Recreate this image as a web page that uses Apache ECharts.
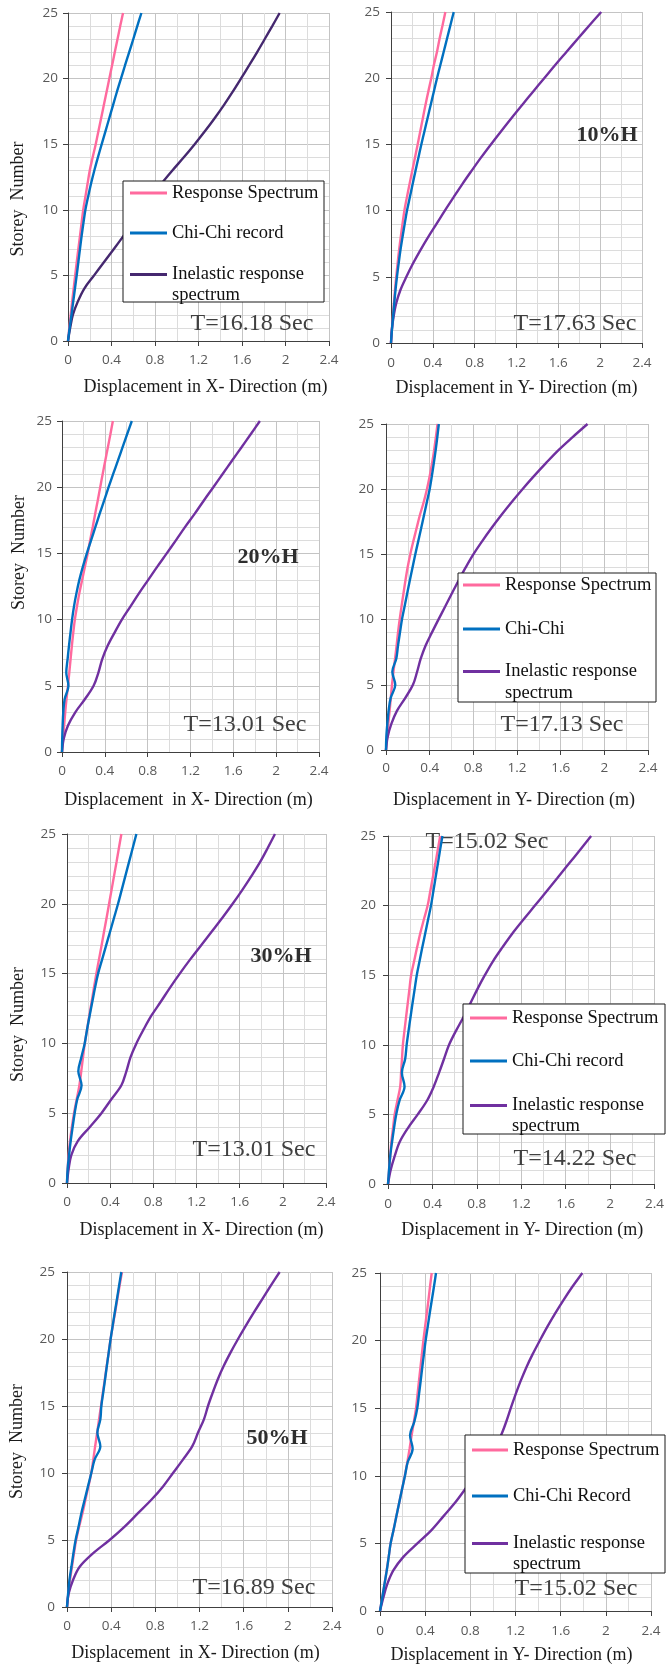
<!DOCTYPE html>
<html><head><meta charset="utf-8">
<script src="https://cdn.jsdelivr.net/npm/echarts@6/dist/echarts.min.js"></script>
<style>html,body{margin:0;padding:0;background:#fff}#c{width:667px;height:1666px}</style>
</head><body><div id="c"></div>
<script>
// ---------------- DATA ----------------
const storeys = [0,1,2,3,4,5,6,7,8,9,10,11,12,13,14,15,16,17,18,19,20,21,22,23,24,25];
const xTickLabels = ['0','0.4','0.8','1.2','1.6','2','2.4'];
const yTickLabels = ['0','5','10','15','20','25'];

// Panel 1: X-direction, 10%H
const p1RS = [0,0.012,0.025,0.038,0.052,0.066,0.08,0.095,0.11,0.125,0.14,0.16,0.18,0.2,0.227,0.255,0.28,0.305,0.33,0.355,0.38,0.405,0.43,0.455,0.48,0.506];
const p1CC = [0,0.015,0.032,0.048,0.064,0.08,0.095,0.11,0.125,0.142,0.16,0.185,0.212,0.242,0.275,0.31,0.345,0.38,0.415,0.45,0.487,0.524,0.562,0.6,0.637,0.675];
const p1IR = [0,0.02,0.045,0.09,0.15,0.24,0.33,0.42,0.51,0.6,0.68,0.77,0.86,0.96,1.065,1.165,1.26,1.35,1.435,1.515,1.59,1.665,1.738,1.808,1.878,1.946];
// Panel 2: Y-direction, 10%H
const p2RS = [0,0.008,0.018,0.028,0.038,0.05,0.063,0.077,0.093,0.11,0.128,0.152,0.177,0.203,0.229,0.255,0.28,0.305,0.33,0.357,0.385,0.41,0.44,0.465,0.493,0.52];
const p2CC = [0,0.009,0.02,0.031,0.043,0.057,0.073,0.09,0.11,0.131,0.153,0.18,0.207,0.234,0.262,0.29,0.32,0.35,0.38,0.41,0.44,0.472,0.504,0.536,0.568,0.6];
const p2IR = [0,0.008,0.025,0.05,0.09,0.147,0.21,0.28,0.355,0.435,0.515,0.598,0.682,0.77,0.86,0.955,1.053,1.153,1.256,1.36,1.465,1.57,1.679,1.788,1.898,2.01];
// Panel 3: X-direction, 20%H
const p3RS = [0,0.01,0.02,0.03,0.042,0.056,0.068,0.08,0.092,0.105,0.12,0.14,0.162,0.188,0.214,0.24,0.263,0.287,0.31,0.334,0.357,0.38,0.404,0.428,0.452,0.475];
const p3CC = [0,0.002,0.006,0.012,0.025,0.06,0.04,0.052,0.065,0.079,0.094,0.112,0.135,0.162,0.195,0.232,0.272,0.312,0.352,0.394,0.435,0.478,0.522,0.565,0.608,0.652];
const p3IR = [0,0.016,0.056,0.124,0.215,0.295,0.34,0.375,0.425,0.49,0.559,0.64,0.72,0.805,0.89,0.978,1.065,1.15,1.24,1.325,1.413,1.5,1.587,1.675,1.762,1.848];
// Panel 4: Y-direction, 20%H
const p4RS = [0,0.01,0.021,0.033,0.044,0.055,0.068,0.083,0.097,0.11,0.125,0.142,0.16,0.178,0.198,0.222,0.25,0.28,0.31,0.345,0.375,0.4,0.422,0.441,0.457,0.472];
const p4CC = [0,0.003,0.012,0.024,0.043,0.085,0.058,0.094,0.11,0.128,0.146,0.17,0.194,0.218,0.243,0.268,0.295,0.322,0.348,0.374,0.4,0.42,0.438,0.455,0.47,0.484];
const p4IR = [0,0.015,0.049,0.1,0.177,0.247,0.285,0.318,0.362,0.42,0.48,0.542,0.603,0.665,0.73,0.8,0.88,0.965,1.055,1.15,1.25,1.355,1.465,1.58,1.71,1.846];
// Panel 5: X-direction, 30%H
const p5RS = [0,0.006,0.015,0.028,0.045,0.065,0.09,0.115,0.132,0.148,0.165,0.186,0.207,0.229,0.25,0.272,0.296,0.32,0.343,0.367,0.39,0.413,0.436,0.459,0.481,0.504];
const p5CC = [0,0.006,0.019,0.034,0.052,0.071,0.095,0.135,0.105,0.133,0.164,0.186,0.21,0.235,0.26,0.288,0.325,0.362,0.399,0.436,0.473,0.507,0.541,0.575,0.609,0.643];
const p5IR = [0,0.015,0.04,0.1,0.21,0.319,0.411,0.504,0.55,0.588,0.643,0.71,0.783,0.87,0.955,1.045,1.14,1.24,1.34,1.44,1.535,1.625,1.71,1.79,1.86,1.927];
// Panel 6: Y-direction, 30%H
const p6RS = [0,0.01,0.02,0.03,0.045,0.06,0.085,0.11,0.118,0.126,0.134,0.148,0.163,0.178,0.193,0.208,0.235,0.262,0.29,0.323,0.357,0.38,0.403,0.426,0.448,0.47];
const p6CC = [0,0.009,0.02,0.036,0.054,0.074,0.104,0.149,0.125,0.155,0.168,0.185,0.203,0.221,0.24,0.259,0.284,0.309,0.335,0.361,0.387,0.408,0.428,0.449,0.469,0.49];
const p6IR = [0,0.024,0.06,0.104,0.178,0.268,0.352,0.412,0.46,0.505,0.55,0.612,0.68,0.743,0.805,0.872,0.945,1.03,1.12,1.22,1.323,1.425,1.527,1.628,1.729,1.829];
// Panel 7: X-direction, 50%H
const p7RS = [0,0.012,0.027,0.045,0.063,0.083,0.11,0.14,0.167,0.194,0.22,0.238,0.255,0.273,0.29,0.308,0.325,0.343,0.36,0.378,0.395,0.415,0.436,0.456,0.477,0.498];
const p7CC = [0,0.01,0.022,0.04,0.058,0.078,0.105,0.13,0.16,0.19,0.22,0.25,0.302,0.275,0.302,0.311,0.328,0.345,0.361,0.378,0.395,0.414,0.433,0.453,0.472,0.492];
const p7IR = [0,0.015,0.054,0.115,0.235,0.386,0.522,0.643,0.764,0.87,0.96,1.05,1.135,1.186,1.24,1.277,1.32,1.366,1.42,1.482,1.549,1.62,1.694,1.77,1.847,1.926];
// Panel 8: Y-direction, 50%H
const p8RS = [0,0.02,0.04,0.059,0.077,0.094,0.12,0.145,0.17,0.195,0.22,0.242,0.262,0.28,0.3,0.319,0.332,0.345,0.358,0.371,0.384,0.399,0.414,0.429,0.443,0.458];
const p8CC = [0,0.02,0.04,0.06,0.077,0.094,0.12,0.145,0.17,0.195,0.221,0.245,0.289,0.266,0.304,0.33,0.345,0.36,0.374,0.389,0.404,0.422,0.44,0.459,0.478,0.496];
const p8IR = [0,0.03,0.065,0.118,0.207,0.331,0.458,0.561,0.664,0.753,0.84,0.93,1.01,1.072,1.118,1.158,1.2,1.245,1.295,1.352,1.415,1.48,1.55,1.625,1.705,1.792];

const seriesNames = ['Response Spectrum', 'Chi-Chi record', 'Inelastic response spectrum'];
const ccNames = ['Chi-Chi record','Chi-Chi record','Chi-Chi record','Chi-Chi','Chi-Chi record','Chi-Chi record','Chi-Chi record','Chi-Chi Record'];
const panelData = [
  [p1RS,p1CC,p1IR],[p2RS,p2CC,p2IR],[p3RS,p3CC,p3IR],[p4RS,p4CC,p4IR],
  [p5RS,p5CC,p5IR],[p6RS,p6CC,p6IR],[p7RS,p7CC,p7IR],[p8RS,p8CC,p8IR]
];
const xNames = ['Displacement in X- Direction (m)','Displacement in Y- Direction (m)',
  'Displacement  in X- Direction (m)','Displacement in Y- Direction (m)',
  'Displacement in X- Direction (m)','Displacement in Y- Direction (m)',
  'Displacement  in X- Direction (m)','Displacement in Y- Direction (m)'];
const yName = 'Storey  Number';
const annotations = [
  {p:0, text:'T=16.18 Sec'}, {p:1, text:'10%H', bold:true}, {p:1, text:'T=17.63 Sec'},
  {p:2, text:'20%H', bold:true}, {p:2, text:'T=13.01 Sec'}, {p:3, text:'T=17.13 Sec'},
  {p:4, text:'30%H', bold:true}, {p:4, text:'T=13.01 Sec'}, {p:5, text:'T=15.02 Sec'},
  {p:5, text:'T=14.22 Sec'}, {p:6, text:'50%H', bold:true}, {p:6, text:'T=16.89 Sec'},
  {p:7, text:'T=15.02 Sec'}
];

// ---------------- LAYOUT / STYLE ----------------
const SERIF = '"Liberation Serif", "Times New Roman", serif';
const SANS = '"Open Sans", "Liberation Sans", sans-serif';
const PINK = '#FF6A9E', BLUE = '#0070C0', PURPLE = '#7030A0', DPURPLE = '#45286F';
const GRID_MAJOR = '#c4c4c4', GRID_MINOR = '#dcdcdc';
// grid: [left, top, width, height]
const layout = [
  {grid:[68,13,261,328],  xGap:37, xShift:7,  lblM:12, yM:10, yGap:41, yShift:22},
  {grid:[391,12,251,331], xGap:36, xShift:0,  lblM:13, yM:11},
  {grid:[62,421,257,331], xGap:39, xShift:-2, lblM:12, yM:10, yGap:34, yShift:-34},
  {grid:[386,424,262,326],xGap:41, xShift:-3, lblM:11, yM:12},
  {grid:[67,834,259,349], xGap:38, xShift:5,  lblM:12, yM:11, yGap:40, yShift:16},
  {grid:[388,836,269,348],xGap:37, xShift:1,  lblM:13, yM:12},
  {grid:[67,1272,265,335],xGap:37, xShift:-4, lblM:12, yM:12, yGap:41, yShift:2},
  {grid:[380,1273,271,338],xGap:35,xShift:-4, lblM:13, yM:13}
];
const annoPos = [[252,324],[607,135],[575,324],[268,557],[245,725],[562,725],[281,956],[254,1150],[487,842],[575,1159],[277,1438],[254,1588],[576,1589]];
// legend boxes: box [l,t,r,b], icon x, icon width, item y centres, second line offset
const legendLayout = [
  {p:0, box:[123,181,324,302], iconX:130, iconW:37, ys:[191,231,272], off:21},
  {p:3, box:[458,573,656,702], iconX:463, iconW:37, ys:[583,627,669], off:22},
  {p:5, box:[463,1004,665,1134], iconX:470, iconW:37, ys:[1016,1059,1103], off:21},
  {p:7, box:[465,1435,665,1573], iconX:472, iconW:36, ys:[1448,1494,1541], off:21}
];
const LFS = 18.5;

const mctx = document.createElement('canvas').getContext('2d');
function textW(t){ mctx.font = LFS + 'px "Liberation Serif"'; return mctx.measureText(t).width; }

const grids = [], xAxes = [], yAxes = [], series = [], legends = [], graphics = [];
layout.forEach((L, i) => {
  const [l,t,w,h] = L.grid;
  grids.push({left:l, top:t, width:w, height:h, containLabel:false});
  const sh = L.xShift;
  xAxes.push({
    type:'value', gridIndex:i, min:0, max:2.4, interval:0.4,
    name: xNames[i], nameLocation:'middle', nameGap:L.xGap,
    nameTextStyle:{fontFamily:SERIF, fontSize:18, color:'#1a1a1a',
      padding: sh >= 0 ? [0,0,0,2*sh] : [0,-2*sh,0,0]},
    axisLine:{show:true, onZero:false, lineStyle:{color:'#404040', width:1}},
    axisTick:{show:true, length:5, lineStyle:{color:'#404040'}},
    axisLabel:{margin:L.lblM, fontFamily:SANS, fontSize:13.5, color:'#595959',
      formatter:(v)=>{ const k = Math.round(v/0.4); return xTickLabels[k] !== undefined ? xTickLabels[k] : String(v); }},
    splitLine:{show:true, lineStyle:{color:GRID_MAJOR, width:1}},
    minorTick:{show:false, splitNumber:2},
    minorSplitLine:{show:true, lineStyle:{color:GRID_MINOR, width:1}}
  });
  const yA = {
    type:'value', gridIndex:i, min:0, max:25, interval:5,
    axisLine:{show:true, onZero:false, lineStyle:{color:'#404040', width:1}},
    axisTick:{show:true, length:5, lineStyle:{color:'#404040'}},
    axisLabel:{margin:L.yM, fontFamily:SANS, fontSize:13.5, color:'#595959',
      formatter:(v)=>{ const k = Math.round(v/5); return yTickLabels[k] !== undefined ? yTickLabels[k] : String(v); }},
    splitLine:{show:true, lineStyle:{color:GRID_MAJOR, width:1}},
    minorTick:{show:false, splitNumber:5},
    minorSplitLine:{show:true, lineStyle:{color:GRID_MINOR, width:1}}
  };
  if (L.yGap !== undefined) {
    const s = L.yShift;
    yA.name = yName; yA.nameLocation = 'middle'; yA.nameGap = L.yGap; yA.nameRotate = 90;
    yA.nameTextStyle = {fontFamily:SERIF, fontSize:18, color:'#1a1a1a',
      padding: s >= 0 ? [0,2*s,0,0] : [0,0,0,-2*s]};
  }
  yAxes.push(yA);
  const names = [seriesNames[0], ccNames[i], seriesNames[2]];
  const colors = [PINK, BLUE, i === 0 ? DPURPLE : PURPLE];
  [0,2,1].forEach(k => {
    series.push({
      type:'line', name:names[k], xAxisIndex:i, yAxisIndex:i,
      data: storeys.map((s, j) => [panelData[i][k][j], s]),
      showSymbol:false, symbol:'none', smooth:0.35,
      lineStyle:{color:colors[k], width:2.4}, itemStyle:{color:colors[k]},
      emphasis:{disabled:true}, silent:true, z: k === 1 ? 3 : 2
    });
  });
});

legendLayout.forEach(G => {
  const i = G.p;
  const [bl,bt,br,bb] = G.box;
  const names = [seriesNames[0], ccNames[i], seriesNames[2]];
  const colors = [PINK, BLUE, i === 0 ? DPURPLE : PURPLE];
  const padT = Math.max(0, G.ys[0] - 8 - bt), padL = G.iconX - bl;
  const cw = G.iconW + 5 + textW(names[0]);
  const padR = Math.max(0, br - bl - padL - cw);
  const padB = Math.max(0, bb - bt - padT - 20);
  const base = {orient:'vertical', icon:'rect', itemWidth:G.iconW, itemHeight:3, selectedMode:false,
    itemGap:0, textStyle:{fontFamily:SERIF, fontSize:LFS, color:'#111', lineHeight:20}};
  legends.push(Object.assign({}, base, {left:bl, top:bt, padding:[padT,padR,padB,padL],
    borderColor:'#1a1a1a', borderWidth:1, backgroundColor:'#fff', z:10,
    data:[{name:names[0], itemStyle:{color:colors[0]}}]}));
  legends.push(Object.assign({}, base, {left:G.iconX, top:G.ys[1]-8, padding:0, z:11,
    data:[{name:names[1], itemStyle:{color:colors[1]}}]}));
  legends.push(Object.assign({}, base, {left:G.iconX, top:G.ys[2]-7.5, padding:0, z:11,
    formatter:()=> '{a|Inelastic response}\n{b|spectrum}',
    textStyle:{fontFamily:SERIF, fontSize:LFS, color:'#111', rich:{
      a:{fontFamily:SERIF, fontSize:LFS, color:'#111', lineHeight:2*G.off},
      b:{fontFamily:SERIF, fontSize:LFS, color:'#111', lineHeight:1}}},
    data:[{name:names[2], itemStyle:{color:colors[2]}}]}));
});

annotations.forEach((a, k) => {
  const [x,y] = annoPos[k];
  graphics.push({type:'text', x:x, y:y, z:1, silent:true,
    style:{text:a.text, fill: a.bold ? '#2e2e2e' : '#404040',
      font: a.bold ? 'bold 22px "Liberation Serif"' : '24px "Liberation Serif"',
      textAlign:'center', textVerticalAlign:'middle', align:'center', verticalAlign:'middle'}});
});

const chart = echarts.init(document.getElementById('c'), null, {renderer:'canvas'});
chart.setOption({
  animation:false,
  backgroundColor:'#fff',
  grid:grids, xAxis:xAxes, yAxis:yAxes, series:series, legend:legends,
  graphic:{elements:graphics}
});
</script>
</body></html>
